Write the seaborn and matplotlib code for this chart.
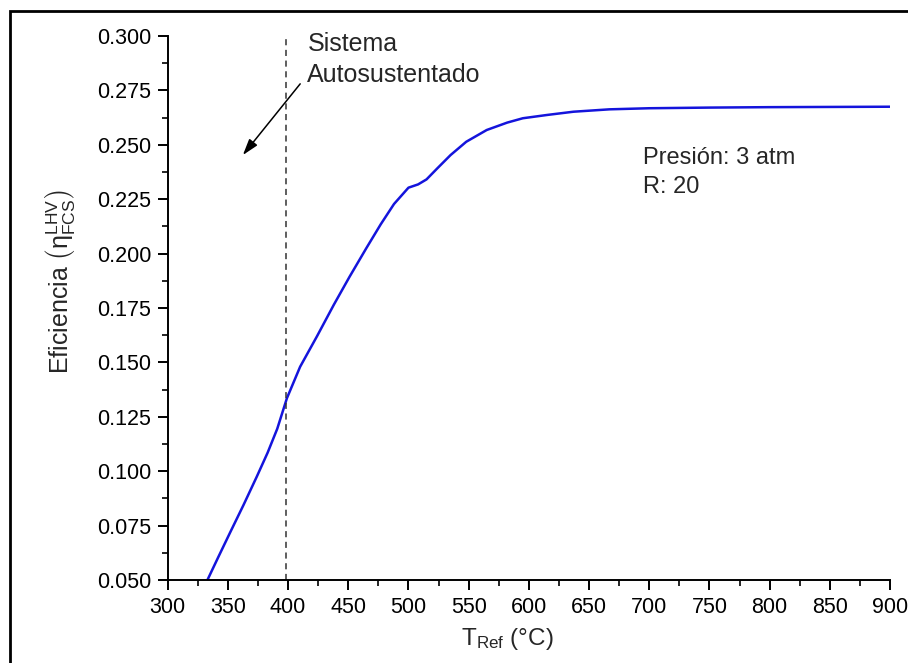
import matplotlib
matplotlib.use("Agg")
import matplotlib.pyplot as plt
import seaborn as sns
import pandas as pd
from matplotlib.patches import Rectangle
from matplotlib.ticker import MultipleLocator, FormatStrFormatter

# Data
t_ref = [333, 342, 352, 363, 374, 383, 391, 399, 410, 424, 438, 451, 465, 477,
         488, 500, 508, 515, 524, 535, 548, 565, 582, 595, 615, 637, 667, 700,
         750, 800, 850, 900]
eficiencia = [0.050, 0.0605, 0.0720, 0.0845, 0.0975, 0.1085, 0.1195, 0.1335, 0.148,
              0.1620, 0.1765, 0.1893, 0.2025, 0.2135, 0.2228, 0.2303, 0.2318,
              0.2341, 0.2392, 0.2453, 0.2514, 0.2568, 0.2602, 0.2622, 0.2637, 0.2652,
              0.2663, 0.2668, 0.2671, 0.2673, 0.2674, 0.2675]
t_autosustentado = 398
x_ticks = list(range(300, 901, 50))
y_ticks = [0.050, 0.075, 0.100, 0.125, 0.150, 0.175, 0.200, 0.225, 0.250, 0.275, 0.300]

df = pd.DataFrame({"T": t_ref, "eff": eficiencia})

sns.set_style("ticks")
plt.rcParams["font.family"] = ["Liberation Sans", "DejaVu Sans"]
plt.rcParams["mathtext.fontset"] = "custom"
plt.rcParams["mathtext.rm"] = "Liberation Sans"
plt.rcParams["mathtext.it"] = "Liberation Sans:italic"
plt.rcParams["mathtext.bf"] = "Liberation Sans:bold"

fig = plt.figure(figsize=(9.08, 6.63), dpi=100)
ax = fig.add_axes([167.7 / 908, 1 - 580 / 663, (890 - 167.7) / 908, (580 - 36) / 663])

sns.lineplot(data=df, x="T", y="eff", ax=ax, color="#1414dc", linewidth=1.8)
for ln in ax.lines:
    ln.set_solid_joinstyle("round")
ax.axvline(t_autosustentado, color="#333333", linestyle=(0, (4, 3)), linewidth=1.1)

ax.set_xlim(300, 900)
ax.set_ylim(0.05, 0.30)
ax.set_xticks(x_ticks)
ax.set_yticks(y_ticks)
ax.xaxis.set_minor_locator(MultipleLocator(25))
ax.yaxis.set_minor_locator(MultipleLocator(0.0125))
ax.yaxis.set_major_formatter(FormatStrFormatter("%.3f"))

for s in ["top", "right"]:
    ax.spines[s].set_visible(False)
for s in ["left", "bottom"]:
    ax.spines[s].set_linewidth(1.4)
    ax.spines[s].set_color("black")

ax.tick_params(which="major", direction="out", length=7, width=1.4, labelsize=15.5, colors="black", pad=5)
ax.tick_params(which="minor", direction="out", length=4, width=1.2, colors="black")

ax.set_xlabel(r"$\mathrm{T_{Ref}}$ (°C)", fontsize=17.5)
ax.xaxis.set_label_coords((507 - 167.7) / (890 - 167.7), -0.085)
ax.set_ylabel(r"Eficiencia $\left(\mathrm{η}_{\mathrm{FCS}}^{\mathrm{LHV}}\right)$", fontsize=18)
ax.yaxis.set_label_coords(-0.126, 0.548)

ax.text(416, 0.2963, "Sistema", fontsize=18, va="center", ha="left")
ax.text(416, 0.2821, "Autosustentado", fontsize=18, va="center", ha="left")
ax.annotate("", xy=(361, 0.2443), xytext=(411.5, 0.279),
            arrowprops=dict(arrowstyle="-|>,head_length=0.7,head_width=0.22", color="black",
                            lw=1.1, mutation_scale=14))

ax.text(694.6, 0.2439, "Presión: 3 atm", fontsize=17, va="center", ha="left")
ax.text(694.6, 0.2306, "R: 20", fontsize=17, va="center", ha="left")

# figure frame (left and top edges visible)
fig.patches.append(Rectangle((10 / 908, -0.2), 1.3, 1.2 - 11 / 663, transform=fig.transFigure,
                             fill=False, edgecolor="black", linewidth=2, clip_on=False))

fig.savefig("out.png", dpi=100)
